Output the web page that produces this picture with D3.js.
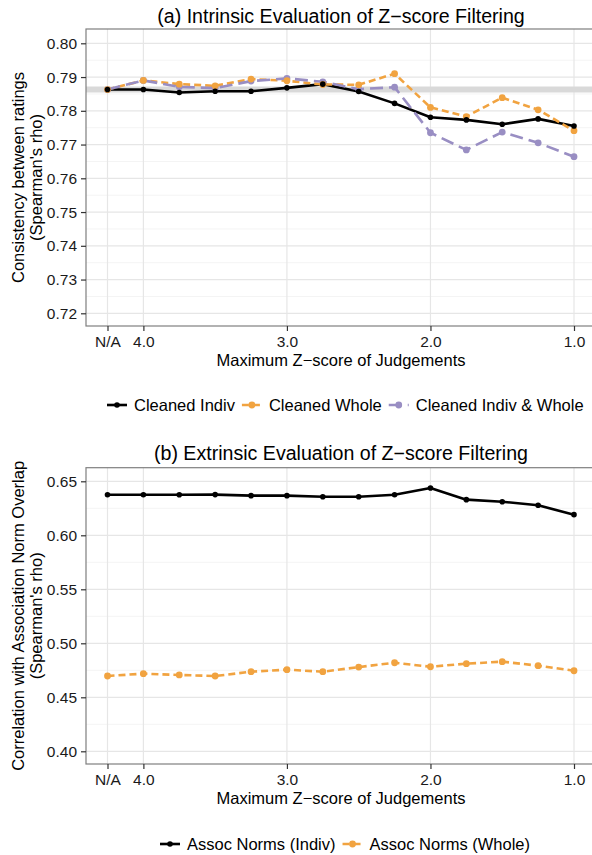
<!DOCTYPE html>
<html>
<head>
<meta charset="utf-8">
<script src="https://cdn.jsdelivr.net/npm/d3@7"></script>
<style>
  html, body { margin: 0; padding: 0; background: #fff; }
  svg { display: block; font-family: "Liberation Sans", Arial, sans-serif; }
</style>
</head>
<body>
<svg id="chart" width="592" height="855"></svg>
<script>
// x positions: N/A is placed one step before 4.0
const zScores = [4.25, 4.0, 3.75, 3.5, 3.25, 3.0, 2.75, 2.5, 2.25, 2.0, 1.75, 1.5, 1.25, 1.0];
const xTickValues = [4.25, 4.0, 3.0, 2.0, 1.0];
const xTickLabels = ["N/A", "4.0", "3.0", "2.0", "1.0"];

// (a) intrinsic evaluation
const cleanedIndiv = [0.7863, 0.7863, 0.7854, 0.7858, 0.7858, 0.7868, 0.7879, 0.7857, 0.7822, 0.7781, 0.7773, 0.7760, 0.7776, 0.7755];
const cleanedWhole = [0.7863, 0.7890, 0.7879, 0.7874, 0.7894, 0.7889, 0.7878, 0.7877, 0.7910, 0.7810, 0.7783, 0.7839, 0.7803, 0.7741];
const cleanedBoth  = [0.7863, 0.7890, 0.7871, 0.7867, 0.7888, 0.7896, 0.7886, 0.7864, 0.7870, 0.7735, 0.7684, 0.7737, 0.7705, 0.7664];
const baselineA = 0.7863;
const yTicksA = [0.72, 0.73, 0.74, 0.75, 0.76, 0.77, 0.78, 0.79, 0.80];

// (b) extrinsic evaluation
const assocIndiv = [0.6376, 0.6376, 0.6375, 0.6377, 0.6367, 0.6367, 0.6357, 0.6357, 0.6376, 0.6438, 0.6330, 0.6311, 0.6278, 0.6191];
const assocWhole = [0.4697, 0.4719, 0.4707, 0.4697, 0.4737, 0.4756, 0.4737, 0.4780, 0.4820, 0.4783, 0.4811, 0.4830, 0.4793, 0.4746];
const yTicksB = [0.40, 0.45, 0.50, 0.55, 0.60, 0.65];

const BLACK = "#000000", ORANGE = "#f1a340", PURPLE = "#998ec3";

const svg = d3.select("#chart");

const x = d3.scaleLinear().domain([4.25, 1.0]).range([107.5, 574]);
const panelLeft = 86, panelRight = 600;

function drawPanel(opts) {
  const g = svg.append("g");
  const y = d3.scaleLinear().domain(opts.yDomain).range(opts.yRange);
  const top = opts.top, bottom = opts.bottom;

  // minor grid
  const minors = [];
  for (let i = 0; i < opts.yTicks.length - 1; i++) minors.push((opts.yTicks[i] + opts.yTicks[i + 1]) / 2);
  minors.push(opts.yTicks[opts.yTicks.length - 1] + (opts.yTicks[1] - opts.yTicks[0]) / 2);
  g.selectAll(".minor").data(minors.filter(v => y(v) > top && y(v) < bottom))
    .enter().append("line")
    .attr("x1", panelLeft).attr("x2", panelRight)
    .attr("y1", d => y(d)).attr("y2", d => y(d))
    .attr("stroke", "#f4f4f4").attr("stroke-width", 1);

  // major grid
  g.selectAll(".hmajor").data(opts.yTicks).enter().append("line")
    .attr("x1", panelLeft).attr("x2", panelRight)
    .attr("y1", d => y(d)).attr("y2", d => y(d))
    .attr("stroke", "#e6e6e6").attr("stroke-width", 1.2);
  g.selectAll(".vmajor").data(xTickValues).enter().append("line")
    .attr("x1", d => x(d)).attr("x2", d => x(d))
    .attr("y1", top).attr("y2", bottom)
    .attr("stroke", "#e6e6e6").attr("stroke-width", 1.2);

  if (opts.hline !== undefined) {
    g.append("line")
      .attr("x1", panelLeft).attr("x2", panelRight)
      .attr("y1", y(opts.hline)).attr("y2", y(opts.hline))
      .attr("stroke", "#d9d9d9").attr("stroke-width", 6);
  }

  // border
  g.append("rect")
    .attr("x", panelLeft).attr("y", top)
    .attr("width", panelRight - panelLeft).attr("height", bottom - top)
    .attr("fill", "none").attr("stroke", "#7f7f7f").attr("stroke-width", 1.2);

  // series lines then points
  const line = d3.line().x((d, i) => x(zScores[i])).y(d => y(d));
  opts.series.forEach(s => {
    g.append("path").datum(s.values)
      .attr("d", line)
      .attr("fill", "none")
      .attr("stroke", s.color)
      .attr("stroke-width", 2.6)
      .attr("stroke-dasharray", s.dash)
      .attr("stroke-linejoin", "round");
  });
  opts.series.slice().reverse().forEach(s => {
    g.selectAll(null).data(s.values).enter().append("circle")
      .attr("cx", (d, i) => x(zScores[i])).attr("cy", d => y(d))
      .attr("r", s.r).attr("fill", s.color);
  });

  // y axis
  const yAxis = g.append("g").attr("transform", `translate(${panelLeft},0)`)
    .call(d3.axisLeft(y).tickValues(opts.yTicks).tickFormat(d3.format(".2f")).tickSize(5).tickPadding(4));
  yAxis.select(".domain").remove();
  yAxis.selectAll(".tick line").attr("stroke", "#333").attr("stroke-width", 1.2);
  yAxis.selectAll(".tick text").attr("fill", "#1a1a1a").style("font-size", "15.5px")
    .attr("font-family", "Liberation Sans, Arial, sans-serif");

  // x axis
  const xAxis = g.append("g").attr("transform", `translate(0,${bottom})`)
    .call(d3.axisBottom(x).tickValues(xTickValues).tickFormat((d, i) => xTickLabels[i]).tickSize(5).tickPadding(5));
  xAxis.select(".domain").remove();
  xAxis.selectAll(".tick line").attr("stroke", "#333").attr("stroke-width", 1.2);
  xAxis.selectAll(".tick text").attr("fill", "#1a1a1a").style("font-size", "15.5px")
    .attr("font-family", "Liberation Sans, Arial, sans-serif");

  // title
  svg.append("text").attr("x", 341).attr("y", opts.titleY)
    .attr("text-anchor", "middle").style("font-size", "19.6px").attr("fill", "#000")
    .text(opts.title);

  // x title
  svg.append("text").attr("x", 341).attr("y", bottom + 40)
    .attr("text-anchor", "middle").style("font-size", "16.5px").attr("fill", "#000")
    .text("Maximum Z\u2212score of Judgements");

  // y title (two lines)
  const cy = (top + bottom) / 2;
  opts.yTitle.forEach((t, i) => {
    svg.append("text")
      .attr("transform", `translate(${24 + i * 17.5},${cy}) rotate(-90)`)
      .attr("text-anchor", "middle").style("font-size", "16.5px").attr("fill", "#000")
      .text(t);
  });

  // legend
  const lg = svg.append("g");
  let cx = opts.legendX;
  opts.series.forEach(s => {
    const item = lg.append("g").attr("transform", `translate(${cx},${opts.legendY})`);
    item.append("line").attr("x1", 0).attr("x2", 20).attr("y1", 0).attr("y2", 0)
      .attr("stroke", s.color).attr("stroke-width", 2.6).attr("stroke-dasharray", s.dash);
    item.append("circle").attr("cx", 10).attr("cy", 0).attr("r", s.r).attr("fill", s.color);
    const txt = item.append("text").attr("x", 27).attr("y", 6)
      .style("font-size", "16.5px").attr("fill", "#000").text(s.name);
    cx += 27 + txt.node().getComputedTextLength() + 7;
  });
}

drawPanel({
  title: "(a) Intrinsic Evaluation of Z\u2212score Filtering",
  titleY: 23,
  top: 29, bottom: 326,
  yDomain: [0.80, 0.72], yRange: [43.3, 313.3],
  yTicks: yTicksA,
  hline: baselineA,
  yTitle: ["Consistency between ratings", "(Spearman's rho)"],
  legendX: 107, legendY: 405,
  series: [
    { name: "Cleaned Indiv", values: cleanedIndiv, color: BLACK, dash: null, r: 2.8 },
    { name: "Cleaned Whole", values: cleanedWhole, color: ORANGE, dash: "7,4", r: 3.4 },
    { name: "Cleaned Indiv & Whole", values: cleanedBoth, color: PURPLE, dash: "13,6", r: 3.4 }
  ]
});

drawPanel({
  title: "(b) Extrinsic Evaluation of Z\u2212score Filtering",
  titleY: 459.5,
  top: 467.7, bottom: 764,
  yDomain: [0.65, 0.40], yRange: [481.3, 751.3],
  yTicks: yTicksB,
  yTitle: ["Correlation with Association Norm Overlap", "(Spearman's rho)"],
  legendX: 160, legendY: 844,
  series: [
    { name: "Assoc Norms (Indiv)", values: assocIndiv, color: BLACK, dash: null, r: 2.8 },
    { name: "Assoc Norms (Whole)", values: assocWhole, color: ORANGE, dash: "7,4", r: 3.4 }
  ]
});
</script>
</body>
</html>
